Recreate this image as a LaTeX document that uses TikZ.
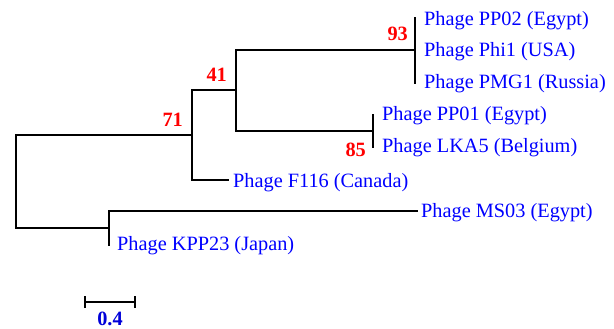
\documentclass[tikz,border=0pt]{standalone}
\usepackage{fontspec}
\setmainfont{Liberation Serif}
\begin{document}
\begin{tikzpicture}[x=1pt,y=-1pt,
  branch/.style={line width=2.6pt,line cap=rect},
  leaf/.style={anchor=base west,inner sep=0pt,text=blue,font=\fontsize{20.3}{24}\selectfont},
  boot/.style={anchor=base east,inner sep=0pt,text=red,font=\fontsize{20.3}{24}\selectfont\bfseries},
  scalelab/.style={anchor=base,inner sep=0pt,text=blue!85!black,font=\fontsize{20.3}{24}\selectfont\bfseries}]
\useasboundingbox (0,0) rectangle (614,329);
% junction coordinates
\coordinate (r1) at (16,135);
\coordinate (r2) at (16,228);
\coordinate (a) at (192,135);
\coordinate (at) at (192,90);
\coordinate (ab) at (192,180);
\coordinate (b) at (236,90);
\coordinate (bt) at (236,50);
\coordinate (bb) at (236,131);
\coordinate (c) at (415,50);
\coordinate (ct) at (415,18);
\coordinate (cb) at (415,83);
\coordinate (d) at (373,131);
\coordinate (dt) at (373,115);
\coordinate (db) at (373,147);
\coordinate (fe) at (228,180);
\coordinate (k) at (109,228);
\coordinate (kt) at (109,211);
\coordinate (kb) at (109,245);
\coordinate (me) at (417,211);
\coordinate (s1) at (85,302);
\coordinate (s2) at (135,302);
% tree
\draw[branch] (r1) -- (r2);
\draw[branch] (r1) -- (a);
\draw[branch] (at) -- (ab);
\draw[branch] (at) -- (b);
\draw[branch] (ab) -- (fe);
\draw[branch] (bt) -- (bb);
\draw[branch] (bt) -- (c);
\draw[branch] (bb) -- (d);
\draw[branch] (ct) -- (cb);
\draw[branch] (dt) -- (db);
\draw[branch] (r2) -- (k);
\draw[branch] (kt) -- (kb);
\draw[branch] (kt) -- (me);
% leaves
\node[leaf] (pp02) at (424,26) {Phage PP02 (Egypt)};
\node[leaf] (phi1) at (424,57) {Phage Phi1 (USA)};
\node[leaf] (pmg1) at (424,89) {Phage PMG1 (Russia)};
\node[leaf] (pp01) at (382,121) {Phage PP01 (Egypt)};
\node[leaf] (lka5) at (382,153) {Phage LKA5 (Belgium)};
\node[leaf] (f116) at (233,187) {Phage F116 (Canada)};
\node[leaf] (ms03) at (421,217) {Phage MS03 (Egypt)};
\node[leaf] (kpp23) at (117,250) {Phage KPP23 (Japan)};
% bootstrap values
\node[boot] (v93) at (408,41) {93};
\node[boot] (v41) at (227,82) {41};
\node[boot] (v71) at (183,127) {71};
\node[boot] (v85) at (366,157) {85};
% scale bar
\draw[line width=2.6pt] (s1) -- (s2);
\draw[line width=2.6pt] ([yshift=-6]s1) -- ([yshift=6]s1);
\draw[line width=2.6pt] ([yshift=-6]s2) -- ([yshift=6]s2);
\node[scalelab] (sl) at (110,325) {0.4};
\end{tikzpicture}
\end{document}
